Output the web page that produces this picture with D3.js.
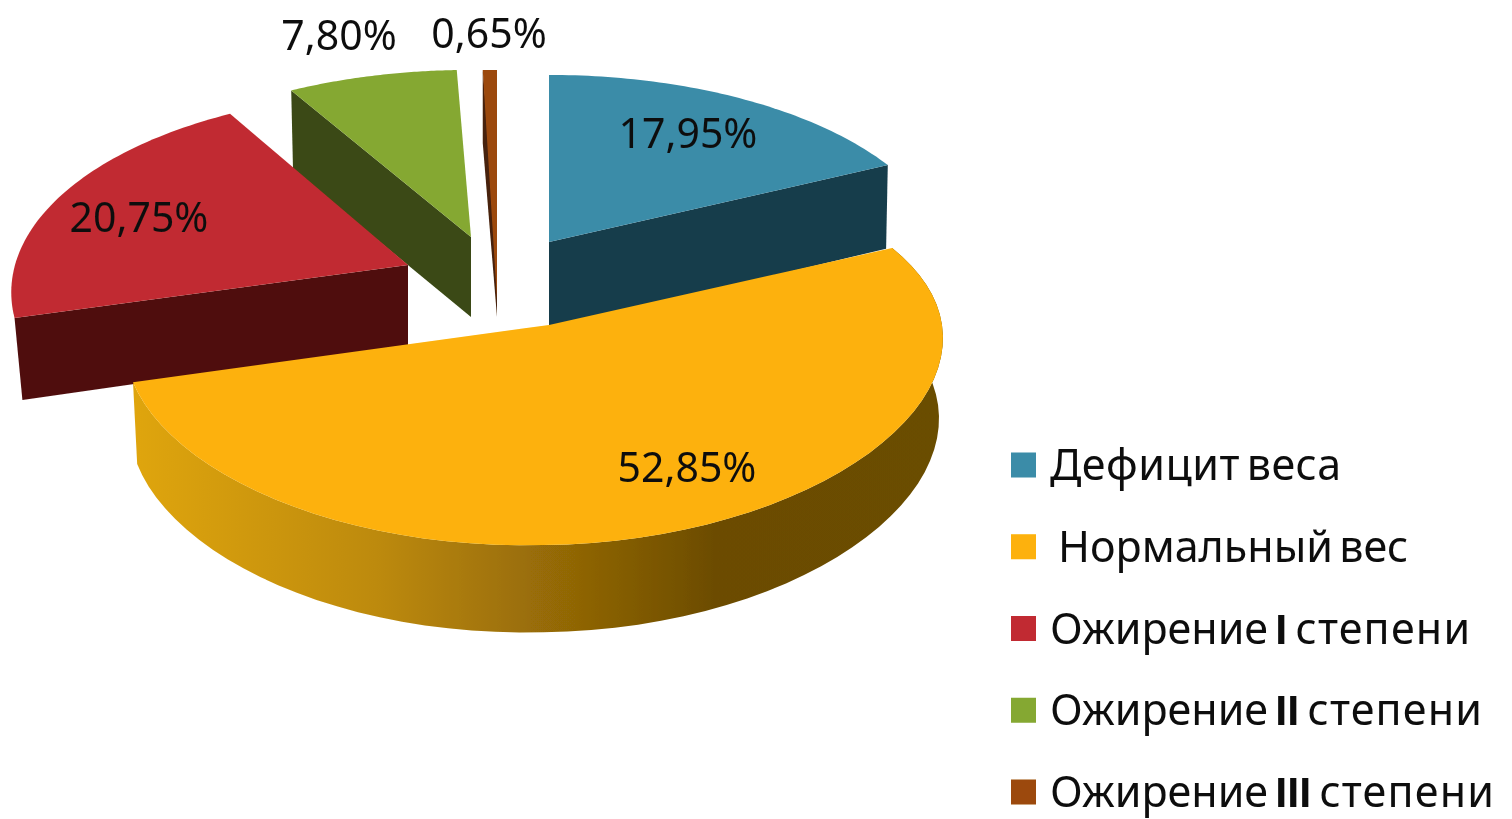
<!DOCTYPE html>
<html>
<head>
<meta charset="utf-8">
<script src="https://cdn.jsdelivr.net/npm/d3@7"></script>
<style>
  html, body { margin: 0; background: #fff; overflow: hidden; }
  text { font-family: "Noto Sans", sans-serif; fill: #111; }
</style>
</head>
<body>
<div id="chart"></div>
<script>
const categories = ['Дефицит веса', 'Нормальный вес', 'Ожирение I степени', 'Ожирение II степени', 'Ожирение III степени'];
const shares = [17.95, 52.85, 20.75, 7.80, 0.65];
const shareLabels = ['17,95%', '52,85%', '20,75%', '7,80%', '0,65%'];

const topColors  = ['#3a8ca8', '#fdb108', '#c12c30', '#85a831', '#9c4a0b'];
const faceColors = ['#173c4b', null, '#4f0f0f', '#3a4a14', '#46200a'];
// which cut edge of the wedge shows as a dark wall
const faceSides  = ['endAngle', null, 'startAngle', 'startAngle', 'startAngle'];

// exploded wedge tips, in page pixels
const tips = [[549, 242], [549, 325], [408, 265], [471, 237], [497, 237]];
// the top of the thin orange slice runs further down than its wall
const surfaceTips = [[549, 242], [549, 325], [408, 265], [471, 237], [497, 300]];
const labelPos = [[688, 133], [687, 467], [139, 217], [339, 35], [489, 33]];
const drawOrder = [4, 3, 0, 2, 1];

// per wedge tweaks of the projection, the original is not a clean ellipse
const radiusX   = [397, 408, 393, 397, 397];
const radiusY   = [190, 190, 196, 190, 190];
const perspX    = [0.137, 0.068, 0.137, 0.137, 0.137];
const centerDx  = [0, -15, 0, 0, 0];
const tiltLeft  = [0, 6, 0, 0, 0];
const shrink    = [0.995, 0.99, 0.98, 0.99, 1];
const depths    = [87, 80, 80, 80, 80];
const depthTilt = [0.09, 0.09, 0.09, 0, 0.09];

const width = 1512, height = 819;
const persp = 0.137;

const svg = d3.select('#chart').append('svg')
  .attr('width', width)
  .attr('height', height);

const defs = svg.append('defs');
defs.append('filter').attr('id', 'soft')
  .append('feGaussianBlur').attr('stdDeviation', 0.5);

const rimGrad = defs.append('linearGradient')
  .attr('id', 'rim')
  .attr('gradientUnits', 'userSpaceOnUse')
  .attr('x1', 135).attr('x2', 940).attr('y1', 0).attr('y2', 0);
[[0, '#dfa50e'], [0.3, '#bd8a0a'], [0.55, '#8f6506'], [0.72, '#6c4c02'], [1, '#6b4d02']]
  .forEach(([o, c]) => rimGrad.append('stop').attr('offset', o).attr('stop-color', c));

const root = svg.append('g').attr('filter', 'url(#soft)');

// d3.pie gives the wedge angles, the rest is a small perspective projection of the disc
const wedges = d3.pie().sort(null).value(d => d)(shares);

function project(angle, i, z) {
  const u = Math.sin(angle), v = -Math.cos(angle);
  const tip = tips[i];
  const sx = 1 / (1 - perspX[i] * v);
  const sy = 1 / (1 - persp * v);
  const k = z ? shrink[i] : 1;
  return [
    tip[0] + (centerDx[i] + radiusX[i] * u * sx) * k,
    tip[1] + radiusY[i] * v * sy + Math.max(-u, 0) * tiltLeft[i] +
      (z ? depths[i] * (1 + depthTilt[i] * v) : 0)
  ];
}

const line = d3.line();
const arcPoints = (a0, a1, i, z) =>
  d3.range(0, 61).map(n => project(a0 + (a1 - a0) * n / 60, i, z));

drawOrder.forEach(i => {
  const w = wedges[i], tip = tips[i];
  const bottomTip = [tip[0], tip[1] + depths[i]];

  if (faceSides[i]) {
    const a = w[faceSides[i]];
    root.append('path')
      .attr('d', line([tip, project(a, i, false), project(a, i, true), bottomTip]) + 'Z')
      .attr('fill', faceColors[i]);
  }
  if (i === 1) {
    const rim = arcPoints(w.startAngle, w.endAngle, i, false)
      .concat(arcPoints(w.startAngle, w.endAngle, i, true).reverse());
    root.append('path')
      .attr('d', line(rim) + 'Z')
      .attr('fill', 'url(#rim)');
  }
  root.append('path')
    .attr('d', line([surfaceTips[i]].concat(arcPoints(w.startAngle, w.endAngle, i, false))) + 'Z')
    .attr('fill', topColors[i]);
});

root.selectAll('.pct')
  .data(shareLabels)
  .join('text')
    .attr('class', 'pct')
    .attr('x', (d, i) => labelPos[i][0])
    .attr('y', (d, i) => labelPos[i][1])
    .attr('dy', '0.36em')
    .attr('text-anchor', 'middle')
    .attr('font-size', 41)
    .text(d => d);

// legend
const legendY = d3.scalePoint().domain(categories).range([465, 792]);
const legend = root.selectAll('.legend')
  .data(categories)
  .join('g')
    .attr('class', 'legend')
    .attr('transform', d => `translate(1011,${legendY(d)})`);

legend.append('rect')
  .attr('y', -12.5)
  .attr('width', 25)
  .attr('height', 25)
  .attr('fill', (d, i) => topColors[i]);

const legendText = legend.append('text')
  .attr('x', (d, i) => i === 1 ? 47 : 39)
  .attr('y', 15)
  .attr('font-size', 43)
  .attr('word-spacing', (d, i) => i < 2 ? -5 : -4)
  .attr('letter-spacing', (d, i) => i === 0 ? 0.5 : 0);

legendText.each(function(d) {
  // roman numerals are heavier in the original, the word after them is wider
  d3.select(this).selectAll('tspan')
    .data(d.split(/(\bI+\b)/))
    .join('tspan')
      .attr('font-family', s => /^I+$/.test(s) ? '"Liberation Sans", sans-serif' : null)
      .attr('font-weight', s => /^I+$/.test(s) ? 700 : 400)
      .attr('letter-spacing', s => s.includes('степени') ? 1.2 : null)
      .text(s => s);
});
</script>
</body>
</html>
